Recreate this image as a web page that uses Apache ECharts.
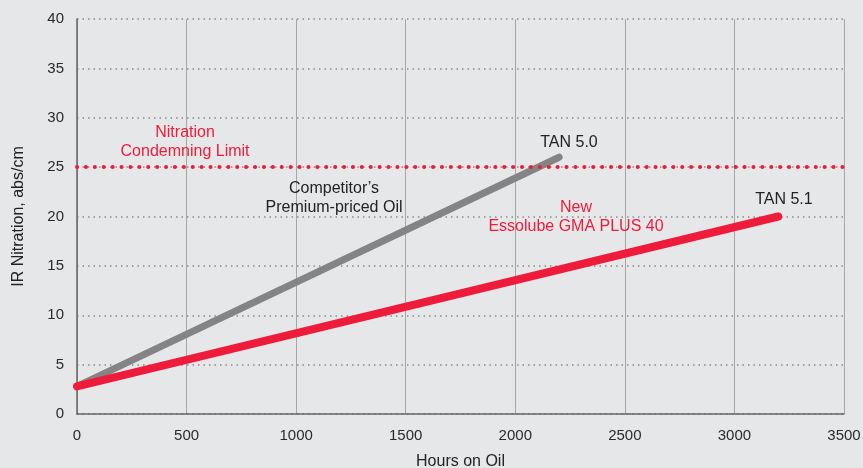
<!DOCTYPE html>
<html><head><meta charset="utf-8">
<script src="https://cdn.jsdelivr.net/npm/echarts@6/dist/echarts.min.js"></script>
<style>html,body{margin:0;padding:0;background:#e6e7e8;}#c{width:863px;height:468px;}</style>
</head><body><div id="c"></div>
<script>
var xTicks = [0, 500, 1000, 1500, 2000, 2500, 3000, 3500];
var competitorHours = [0, 2200];
var competitorValues = [2.8, 26];
var essoHours = [0, 3200];
var essoValues = [2.8, 20];
var limitValue = 25;
var redLabels = [
  {x: 493, y: 27.5, text: 'Nitration\nCondemning Limit'},
  {x: 2277, y: 19.9, text: 'New\nEssolube GMA PLUS 40'}
];
var darkLabels = [
  {x: 1173, y: 21.9, text: "Competitor\u2019s\nPremium-priced Oil"},
  {x: 2245, y: 27.5, text: 'TAN 5.0'},
  {x: 3226, y: 21.7, text: 'TAN 5.1'}
];
var RED = '#ee1c3a';
var FONT = 'Liberation Sans';
function pts(xs, ys){ return xs.map(function(v,i){return [v, ys[i]];}); }
function labelSeries(arr, color){
  return {
    type: 'scatter', symbolSize: 0, silent: true, z: 5,
    itemStyle: {opacity: 1},
    data: arr.map(function(a){ return {value: [a.x, a.y], name: a.text}; }),
    label: {show: true, position: 'inside', formatter: function(p){return p.name;}, opacity: 1,
      color: color, fontSize: 16, fontFamily: FONT, lineHeight: 19, align: 'center', verticalAlign: 'middle'}
  };
}
var chart = echarts.init(document.getElementById('c'));
chart.setOption({
  backgroundColor: '#e6e7e8',
  animation: false,
  grid: {left: 77, right: 19, top: 19, bottom: 54, containLabel: false, outerBoundsMode: 'none'},
  xAxis: {
    type: 'value', min: 0, max: 3500, interval: 500,
    name: 'Hours on Oil', nameLocation: 'middle', nameGap: 40,
    nameTextStyle: {color: '#222', fontSize: 16, fontFamily: FONT},
    axisLine: {show: true, lineStyle: {color: '#666', width: 1.5}},
    axisTick: {show: false},
    axisLabel: {color: '#2a2a2a', fontSize: 15, fontFamily: FONT, margin: 14, formatter: function(v){return String(v);}},
    splitLine: {show: true, lineStyle: {color: '#a6a6a6', width: 1}}
  },
  yAxis: {
    type: 'value', min: 0, max: 40, interval: 5,
    name: 'IR Nitration, abs/cm', nameLocation: 'middle', nameGap: 50,
    nameTextStyle: {color: '#222', fontSize: 16, fontFamily: FONT},
    axisLine: {show: true, lineStyle: {color: '#666', width: 1.5}},
    axisTick: {show: false},
    axisLabel: {color: '#2a2a2a', fontSize: 15, fontFamily: FONT, margin: 13},
    splitLine: {show: true, lineStyle: {color: '#8a8a8a', width: 1.5, type: [1.5, 4]}}
  },
  series: [
    {
      type: 'line', data: pts(competitorHours, competitorValues), symbol: 'none', z: 3,
      lineStyle: {color: '#848484', width: 7, cap: 'round'}
    },
    {
      type: 'line', data: pts(essoHours, essoValues), symbol: 'none', z: 4,
      lineStyle: {color: RED, width: 8, cap: 'round'},
      markLine: {
        silent: true, symbol: 'none', label: {show: false},
        lineStyle: {color: RED, width: 4, type: [0.1, 8.8], cap: 'round'},
        data: [{yAxis: limitValue}]
      }
    },
    labelSeries(redLabels, RED),
    labelSeries(darkLabels, '#222')
  ]
});
</script></body></html>
